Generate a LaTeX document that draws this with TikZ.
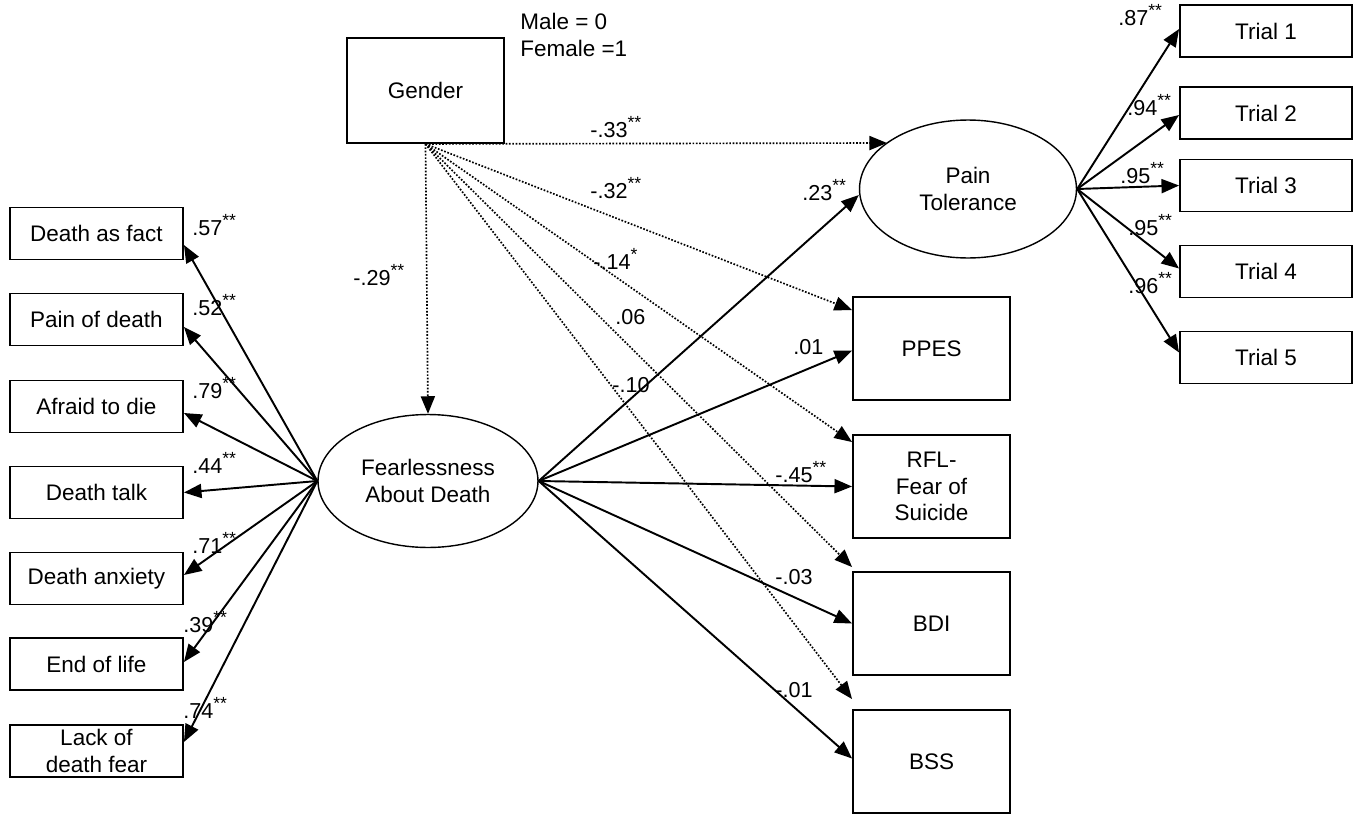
\documentclass[tikz,border=0pt]{standalone}
\usepackage{fontspec}
\setmainfont{Liberation Sans}
\usetikzlibrary{arrows.meta,shapes.geometric,calc}
\newcommand{\sig}[1]{\raisebox{0.75ex}{\fontsize{10}{10}\selectfont #1}}
\begin{document}
\begin{tikzpicture}[x=0.02cm,y=-0.02cm,
  box/.style={draw,line width=1.1pt,rectangle,inner sep=0pt,align=center,font=\fontsize{12.8}{15}\selectfont},
  lbox/.style={box,minimum width=3.46cm,minimum height=1.04cm},
  tbox/.style={box,minimum width=3.44cm,minimum height=1.04cm},
  rbox/.style={box,minimum width=3.14cm,minimum height=2.06cm},
  latent/.style={draw,line width=0.8pt,ellipse,inner sep=0pt,align=center,font=\fontsize{12.8}{15}\selectfont},
  path/.style={line width=1.1pt,-{Triangle[length=10pt,width=8pt]}},
  dotpath/.style={line width=0.95pt,dash pattern=on 0.95pt off 0.95pt,-{Triangle[length=10pt,width=8pt]}},
  lab/.style={anchor=west,inner sep=0pt,font=\fontsize{12.3}{14}\selectfont},
  lab2/.style={anchor=west,inner sep=0pt,align=left,font=\fontsize{12.8}{15}\selectfont}
]
\useasboundingbox (0,0) rectangle (1360,815);

% left indicator boxes
\node[lbox] (daf) at (96.5,233.5) {Death as fact};
\node[lbox] (pod) at (96.5,319.5) {Pain of death};
\node[lbox] (atd) at (96.5,406.5) {Afraid to die};
\node[lbox] (dtk) at (96.5,492.5) {Death talk};
\node[lbox] (dax) at (96.5,578.5) {Death anxiety};
\node[lbox] (eol) at (96.5,664) {End of life};
\node[lbox] (ldf) at (96.5,751) {Lack of\\death fear};

% gender
\node[box,minimum width=3.14cm,minimum height=2.1cm] (gender) at (425.5,90.5) {Gender};
\node[lab2] (code) at (520,35) {Male = 0\\Female =1};

% latent variables
\node[latent,minimum width=4.4cm,minimum height=2.66cm] (fad) at (428,481) {Fearlessness\\About Death};
\node[latent,minimum width=4.34cm,minimum height=2.76cm] (pt) at (968,189) {Pain\\Tolerance};

% trials
\node[tbox] (t1) at (1266,31) {Trial 1};
\node[tbox] (t2) at (1266,113) {Trial 2};
\node[tbox] (t3) at (1266,185.5) {Trial 3};
\node[tbox] (t4) at (1266,271.5) {Trial 4};
\node[tbox] (t5) at (1266,357.5) {Trial 5};

% outcome boxes
\node[rbox] (ppes) at (931.5,348.5) {PPES};
\node[rbox] (rfl) at (931.5,486.5) {RFL-\\Fear of\\Suicide};
\node[rbox] (bdi) at (931.5,623.5) {BDI};
\node[rbox] (bss) at (931.5,761.5) {BSS};

% loadings of fearlessness
\draw[path] (fad.west) -- ($(daf.east)+(0,11.5)$);
\draw[path] (fad.west) -- ($(pod.east)+(0,7.5)$);
\draw[path] (fad.west) -- ($(atd.east)+(0,6.5)$);
\draw[path] (fad.west) -- (dtk.east);
\draw[path] (fad.west) -- ($(dax.east)+(0,-3.5)$);
\draw[path] (fad.west) -- ($(eol.east)+(0,-2)$);
\draw[path] (fad.west) -- ($(ldf.east)+(0,-9)$);

% loadings of pain tolerance
\draw[path] (pt.east) -- ($(t1.west)+(0,-2)$);
\draw[path] (pt.east) -- ($(t2.west)+(0,2)$);
\draw[path] (pt.east) -- (t3.west);
\draw[path] (pt.east) -- ($(t4.west)+(0,-3)$);
\draw[path] (pt.east) -- ($(t5.west)+(0,-5)$);

% structural paths from fearlessness
\draw[path] (fad.east) -- ($(pt.west)+(0,6)$);
\draw[path] (fad.east) -- ($(ppes.west)+(0,2)$);
\draw[path] (fad.east) -- (rfl.west);
\draw[path] (fad.east) -- (bdi.west);
\draw[path] (fad.east) -- ($(bss.west)+(0,-3)$);

% gender paths (dotted)
\draw[dotpath] (gender.south) -- ($(pt.center)+(-81,-46)$);
\draw[dotpath] (gender.south) -- (fad.north);
\draw[dotpath] (gender.south) -- ($(ppes.north west)+(0,14)$);
\draw[dotpath] (gender.south) -- ($(rfl.north west)+(0,8)$);
\draw[dotpath] (gender.south) -- ($(bdi.north west)+(0,-4)$);
\draw[dotpath] (gender.south) -- ($(bss.north west)+(0,-10)$);

% labels left
\node[lab] (l1) at (192,225) {.57\sig{**}};
\node[lab] (l2) at (192,305) {.52\sig{**}};
\node[lab] (l3) at (192,388) {.79\sig{**}};
\node[lab] (l4) at (192,463) {.44\sig{**}};
\node[lab] (l5) at (192,543) {.71\sig{**}};
\node[lab] (l6) at (183,622) {.39\sig{**}};
\node[lab] (l7) at (183,708) {.74\sig{**}};

% labels gender
\node[lab] (g1) at (590,127) {-.33\sig{**}};
\node[lab] (g2) at (590,188) {-.32\sig{**}};
\node[lab] (g3) at (593,259) {-.14\sig{*}};
\node[lab] (g4) at (615,317) {.06};
\node[lab] (g5) at (612,385) {-.10};
\node[lab] (g6) at (353,275) {-.29\sig{**}};

% labels fearlessness
\node[lab] (f1) at (802,190) {.23\sig{**}};
\node[lab] (f2) at (793,347) {.01};
\node[lab] (f3) at (775,472) {-.45\sig{**}};
\node[lab] (f4) at (775,577) {-.03};
\node[lab] (f5) at (775,690) {-.01};

% labels trials
\node[lab] (p1) at (1118,15) {.87\sig{**}};
\node[lab] (p2) at (1127,105) {.94\sig{**}};
\node[lab] (p3) at (1120,173) {.95\sig{**}};
\node[lab] (p4) at (1128,225) {.95\sig{**}};
\node[lab] (p5) at (1128,283) {.96\sig{**}};
\end{tikzpicture}
\end{document}
